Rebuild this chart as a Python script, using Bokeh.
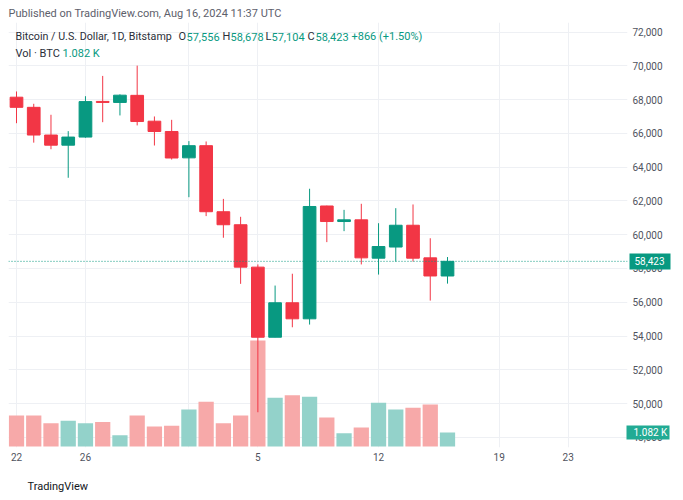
from bokeh.plotting import figure
from bokeh.models import (Range1d, LinearAxis, FixedTicker, NumeralTickFormatter, Label, Span,
                          ColumnDataSource, Title)
from bokeh.embed import file_html
from bokeh.resources import INLINE

# ---------------- data ----------------
dates = ["Jul 22", "Jul 23", "Jul 24", "Jul 25", "Jul 26", "Jul 27", "Jul 28", "Jul 29", "Jul 30", "Jul 31",
         "Aug 1", "Aug 2", "Aug 3", "Aug 4", "Aug 5", "Aug 6", "Aug 7", "Aug 8", "Aug 9", "Aug 10",
         "Aug 11", "Aug 12", "Aug 13", "Aug 14", "Aug 15", "Aug 16"]
opens = [68140, 67540, 65900, 65300, 65780, 67890, 67830, 68250, 66720, 66110,
         64550, 65270, 61360, 60590, 58080, 53930, 55970, 55020, 61700, 60780,
         60880, 58610, 59270, 60560, 58630, 57556]
highs = [68480, 67750, 67100, 66130, 68200, 69400, 68310, 70010, 67000, 66800,
         65540, 65520, 62120, 61060, 58240, 56990, 57690, 62720, 61720, 61470,
         61830, 60680, 61570, 61790, 59790, 58678]
lows = [66600, 65450, 65060, 63370, 65740, 66660, 67060, 66470, 65280, 64450,
        62220, 61100, 59820, 57090, 49490, 53930, 54520, 54680, 59560, 60210,
        58240, 57640, 58410, 58410, 56100, 57104]
closes = [67540, 65900, 65300, 65780, 67880, 67830, 68260, 66700, 66110, 64540,
          65270, 61360, 60590, 58080, 53930, 55970, 55020, 61670, 60780, 60880,
          58630, 59300, 60560, 58610, 57557, 58423]
volumes_k = [2.40, 2.40, 1.81, 1.99, 1.81, 1.89, 0.88, 2.40, 1.55, 1.60,
             2.87, 3.46, 1.81, 2.40, 8.22, 3.77, 3.98, 3.85, 2.25, 1.03,
             1.47, 3.39, 2.87, 3.00, 3.26, 1.082]
price_ticks = list(range(48000, 72001, 2000))
time_tick_pos = [0, 4, 10, 14, 21, 28, 32]
time_tick_labels = ["22", "26", "Aug", "5", "12", "19", "23"]

# ---------------- styling / layout helpers ----------------
GREEN = "#089981"
RED = "#f23645"
VOL_GREEN = "#93d2ca"
VOL_RED = "#f7a9a9"
VOL_BADGE = "#22ab94"
TXT = "#2a2e39"
AXTXT = "#50535e"
GRID = "#eef0f4"
FONT = "Roboto"
AX_FS = "10px"

W, H = 683, 500
FL, FR, FT, FB = 8, 627, 22, 447   # frame edges (canvas px)
X0, DX = 16.0, 17.24               # canvas px of first candle, px per day
Y0, DY = 31.5, 59.2                # canvas px of 72,000 ; dollars per px
VOL_BASE, VOL_PX = 446, 12.9       # canvas px of zero volume ; px per 1K
AXW = 36                           # width taken by the price scale labels (standoff + text)


def px_x(px):
    return (px - X0) / DX


def py_p(py):
    return 72000 - (py - Y0) * DY


n = len(dates)
xs = list(range(n))
up = [c >= o for o, c in zip(opens, closes)]
src = ColumnDataSource(dict(
    x=xs, open=opens, high=highs, low=lows, close=closes, vol=volumes_k,
    top=[max(o, c) for o, c in zip(opens, closes)],
    bottom=[min(o, c) for o, c in zip(opens, closes)],
    color=[GREEN if u else RED for u in up],
    vcolor=[VOL_GREEN if u else VOL_RED for u in up],
))

p = figure(width=W, height=H, output_backend="svg", toolbar_location=None,
           x_range=Range1d(px_x(FL), px_x(FR)), y_range=Range1d(py_p(FB), py_p(FT)),
           y_axis_location="right", min_border=0)
p.min_border_left = FL
p.min_border_right = W - FR
p.min_border_top = FT
p.min_border_bottom = H - FB
p.outline_line_color = None
p.background_fill_color = "white"
p.border_fill_color = "white"

p.extra_y_ranges = {"vol": Range1d((VOL_BASE - FB) / VOL_PX, (VOL_BASE - FT) / VOL_PX)}


def no_ticks(ax):
    ax.major_tick_line_color = None
    ax.minor_tick_line_color = None
    ax.major_tick_in = 0
    ax.major_tick_out = 0
    ax.minor_tick_in = 0
    ax.minor_tick_out = 0


# main axes
p.yaxis.ticker = FixedTicker(ticks=price_ticks)
p.yaxis.formatter = NumeralTickFormatter(format="0,0")
p.xaxis.ticker = FixedTicker(ticks=time_tick_pos)
p.xaxis.major_label_overrides = {t: ("" if l == "Aug" else l) for t, l in zip(time_tick_pos, time_tick_labels)}
for ax in (p.xaxis[0], p.yaxis[0]):
    ax.axis_line_color = None
    no_ticks(ax)
    ax.major_label_text_font = FONT
    ax.major_label_text_font_size = AX_FS
    ax.major_label_text_color = AXTXT
p.yaxis.major_label_standoff = 5
p.xaxis.major_label_standoff = 5
p.xgrid.grid_line_color = GRID
p.ygrid.grid_line_color = GRID

# bold month label on the time axis
aug_i = time_tick_labels.index("Aug")
month_ax = LinearAxis(fixed_location=py_p(FB), ticker=FixedTicker(ticks=[time_tick_pos[aug_i]]),
                      major_label_overrides={time_tick_pos[aug_i]: "Aug"}, axis_line_color=None,
                      major_label_text_font=FONT, major_label_text_font_size=AX_FS,
                      major_label_text_font_style="bold", major_label_text_color="#131722",
                      major_label_standoff=5)
no_ticks(month_ax)
p.add_layout(month_ax, "below")

# volume
p.vbar(x="x", top="vol", bottom=0, width=0.885, source=src, y_range_name="vol",
       fill_color="vcolor", line_color=None)

# last price line
p.add_layout(Span(location=closes[-1], dimension="width", line_color=GREEN,
                  line_dash="1 2", line_width=1))

# candles
p.segment(x0="x", y0="high", x1="x", y1="low", source=src, line_color="color", line_width=1)
p.vbar(x="x", top="top", bottom="bottom", width=0.737, source=src,
       fill_color="color", line_color="color", line_width=1)

# price / volume badges on the price scale: stacked axes whose thick ticks reach back to the pane
price_badge = LinearAxis(ticker=FixedTicker(ticks=[closes[-1]]),
                         formatter=NumeralTickFormatter(format="0,0"),
                         axis_line_color=None, minor_tick_line_color=None, minor_tick_in=0, minor_tick_out=0,
                         major_tick_in=AXW, major_tick_out=41 - AXW, major_tick_line_width=16,
                         major_tick_line_color=GREEN, major_tick_line_cap="butt",
                         major_label_standoff=-36, major_label_text_color="white",
                         major_label_text_font=FONT, major_label_text_font_size=AX_FS)
p.add_layout(price_badge, "right")
vol_badge = LinearAxis(y_range_name="vol", ticker=FixedTicker(ticks=[volumes_k[-1]]),
                       major_label_overrides={volumes_k[-1]: f"{volumes_k[-1]:.3f} K"},
                       axis_line_color=None, minor_tick_line_color=None, minor_tick_in=0, minor_tick_out=0,
                       major_tick_in=41, major_tick_out=2, major_tick_line_width=14,
                       major_tick_line_color=VOL_BADGE, major_tick_line_cap="butt",
                       major_label_standoff=-36, major_label_text_color="white",
                       major_label_text_font=FONT, major_label_text_font_size=AX_FS)
p.add_layout(vol_badge, "right")


def lab(text, px, py, color=TXT, size="11px", style="normal"):
    p.add_layout(Label(x=px_x(px), y=py_p(py), text=text, text_color=color, text_font=FONT,
                       text_font_size=size, text_font_style=style, text_baseline="middle",
                       text_align="left"))

# legend lines inside the pane
lab("Bitcoin / U.S. Dollar, 1D, Bitstamp", 15, 36, size="10.7px")
chg = closes[-1] - closes[-2]
pct = chg / closes[-2] * 100
items = [("O", 178, TXT), (f"{opens[-1]:,}", 186, GREEN),
         ("H", 222, TXT), (f"{highs[-1]:,}", 230, GREEN),
         ("L", 265, TXT), (f"{lows[-1]:,}", 271, GREEN),
         ("C", 307, TXT), (f"{closes[-1]:,}", 315, GREEN),
         (f"{chg:+,} ({pct:+.2f}%)", 351, GREEN)]
for t, x, c in items:
    lab(t, x, 36, color=c)
lab("Vol · BTC", 15, 53)
lab(f"{volumes_k[-1]:.3f} K", 62, 53, color=GREEN)

# header and footer
p.add_layout(Title(text="Published on TradingView.com, Aug 16, 2024 11:37 UTC", align="left", offset=0,
                   text_font=FONT, text_font_size="11px", text_font_style="normal",
                   text_color="#5d606b", standoff=5), "above")
p.add_layout(Title(text="\nTradingView", align="left", offset=19, text_font=FONT,
                   text_font_size="11px", text_font_style="normal", text_color="#131722",
                   standoff=2), "below")

open("out.html", "w").write(file_html(p, INLINE))
